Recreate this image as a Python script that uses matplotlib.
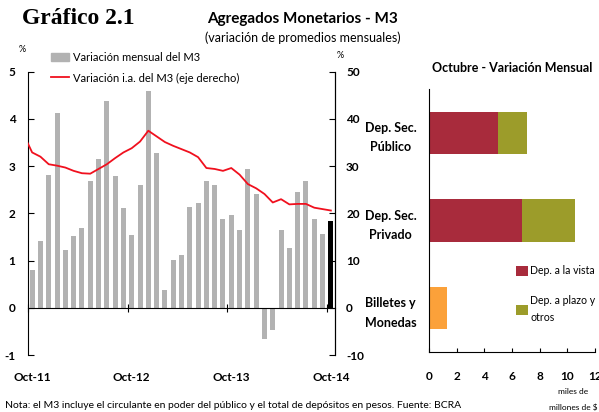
import numpy as np
import matplotlib
matplotlib.use('Agg')
import matplotlib.pyplot as plt
from matplotlib.patches import Rectangle
from matplotlib.lines import Line2D

plt.rcParams['font.family'] = ['Lato', 'DejaVu Sans']

# monthly data, Oct-11 .. Oct-14
var_mensual = [0.80, 1.41, 2.81, 4.12, 1.23, 1.51, 1.70, 2.69, 3.15, 4.38, 2.80, 2.11,
               1.55, 2.59, 4.59, 3.27, 0.38, 1.01, 1.12, 2.13, 2.21, 2.68, 2.59, 1.87,
               1.96, 1.64, 2.93, 2.42, -0.66, -0.46, 1.64, 1.27, 2.46, 2.69, 1.88, 1.56, 1.84]
# year-on-year, Sep-11 .. Oct-14 (first month falls outside the axis)
var_ia = [36.6, 32.9, 32.0, 30.4, 30.1, 29.7, 29.0, 28.5, 28.4, 29.4, 30.4, 31.7, 32.9,
          33.8, 35.2, 37.5, 36.3, 35.1, 34.3, 33.6, 32.9, 31.9, 29.6, 29.4, 29.0,
          29.6, 28.2, 26.2, 25.3, 24.1, 22.3, 23.0, 21.9, 22.0, 22.0, 21.2, 20.9, 20.6]
xlabels = ['Oct-11', 'Oct-12', 'Oct-13', 'Oct-14']

# october breakdown (miles de millones de $)
categorias = ['Dep. Sec.\nPúblico', 'Dep. Sec.\nPrivado', 'Billetes y\nMonedas']
dep_vista = [5.0, 6.72, 0]
dep_plazo = [2.06, 3.83, 0]
billetes = [0, 0, 1.30]

GRAY = '#b2b2b2'
RED = '#f0101e'
VISTA = '#a82b3c'
PLAZO = '#9c9c2a'
ORANGE = '#fba13a'

fig = plt.figure(figsize=(5.99, 4.12), dpi=100)

fig.text(0.037, 0.955, 'Gráfico 2.1', family='Liberation Serif', fontweight='bold',
         fontsize=17, va='center')
fig.text(0.505, 0.955, 'Agregados Monetarios - M3', fontweight='bold', fontsize=11,
         va='center', ha='center')
fig.text(0.505, 0.908, '(variación de promedios mensuales)', fontsize=9,
         va='center', ha='center')

# ---- left chart
ax = fig.add_axes([28/599, 57/412, 307/599, 283.3/412])
n = len(var_mensual)
x = np.arange(n) + 0.5
colors = [GRAY]*(n-1) + ['black']
ax.bar(x, var_mensual, width=0.6, color=colors, zorder=2)
ax.set_xlim(0, n)
ax.set_ylim(-1, 5)
ax.set_yticks(range(-1, 6))
ax.set_yticklabels([str(v) for v in range(-1, 6)], fontweight='bold', fontsize=8.5)
ax.tick_params(axis='y', direction='in', length=4, pad=9, width=0.8)
ax.spines['top'].set_visible(False)
ax.spines['bottom'].set_position(('data', 0))
ax.spines['bottom'].set_zorder(3)
ax.set_xticks([0.5, 12.5, 24.5, 36.5])
ax.set_xticklabels(xlabels, fontweight='bold', fontsize=8.5)
ax.set_xticks([0, 12, 24, 36], minor=True)
ax.tick_params(axis='x', which='major', length=0, pad=46)
ax.tick_params(axis='x', which='minor', direction='inout', length=6, width=0.8)
for s in ['left', 'right', 'bottom']:
    ax.spines[s].set_linewidth(0.8)

ax2 = ax.twinx()
ax2.plot(np.arange(len(var_ia)) - 0.5, var_ia, color=RED, lw=1.3, zorder=4)
ax2.set_xlim(0, n)
ax2.set_ylim(-10, 50)
ax2.set_yticks(range(-10, 51, 10))
ax2.set_yticklabels([str(v) for v in range(-10, 51, 10)], fontweight='bold', fontsize=8.5)
ax2.tick_params(axis='y', direction='in', length=4, pad=8, width=0.8)
for s in ['top', 'bottom', 'left']:
    ax2.spines[s].set_visible(False)
ax2.spines['right'].set_linewidth(0.8)

fig.text(22/599, 1-50/412, '%', fontsize=6.5, ha='center', va='center')
fig.text(340/599, 1-56/412, '%', fontsize=6.5, ha='center', va='center')

leg_handles = [Rectangle((0, 0), 1, 1, color=GRAY), Line2D([], [], color=RED, lw=1.3)]
ax.legend(leg_handles, ['Variación mensual del M3', 'Variación i.a. del M3 (eje derecho)'],
          loc='upper left', bbox_to_anchor=(0.06, 1.085), frameon=False, fontsize=8,
          handlelength=1.6, handleheight=0.8, handletextpad=0.4, labelspacing=0.85,
          borderaxespad=0)

# ---- right chart
bx = fig.add_axes([429/599, 60/412, 166/599, 263/412])
pos = np.arange(len(categorias))[::-1]
bx.barh(pos, dep_vista, height=0.48, color=VISTA, label='Dep. a la vista')
bx.barh(pos, dep_plazo, left=dep_vista, height=0.48, color=PLAZO,
        label='Dep. a plazo y\notros')
bx.barh(pos, billetes, height=0.48, color=ORANGE)
bx.set_xlim(0, 12)
bx.set_ylim(-0.5, 2.5)
bx.set_xticks(range(0, 13, 2))
bx.set_xticklabels([str(v) for v in range(0, 13, 2)], fontweight='bold', fontsize=8.5)
bx.tick_params(axis='x', direction='in', length=3, pad=14, width=0.8)
bx.set_yticks(pos)
bx.set_yticklabels(categorias, fontweight='bold', fontsize=9, multialignment='center',
                   linespacing=1.75)
bx.tick_params(axis='y', length=0, pad=9)
bx.spines['top'].set_visible(False)
bx.spines['right'].set_visible(False)
bx.spines['left'].set_linewidth(0.8)
bx.spines['bottom'].set_linewidth(0.8)
bx.set_title('Octubre - Variación Mensual', fontweight='bold', fontsize=9, pad=12)
leg = bx.legend(loc='upper left', bbox_to_anchor=(0.5, 0.345), frameon=False, fontsize=7.6,
                handlelength=1.1, handleheight=1.1, handletextpad=0.25, labelspacing=1.8,
                borderaxespad=0)
leg.get_texts()[1].set_linespacing(1.6)

fig.text(573/599, 1-392/412, 'miles de', fontsize=6, ha='center', va='center')
fig.text(573/599, 1-407/412, 'millones de $', fontsize=6, ha='center', va='center')
fig.text(5/599, 1-405/412, 'Nota: el M3 incluye el circulante en poder del público y el total '
         'de depósitos en pesos. Fuente: BCRA', fontsize=7.5, va='center')

fig.savefig('out.png', dpi=100)
